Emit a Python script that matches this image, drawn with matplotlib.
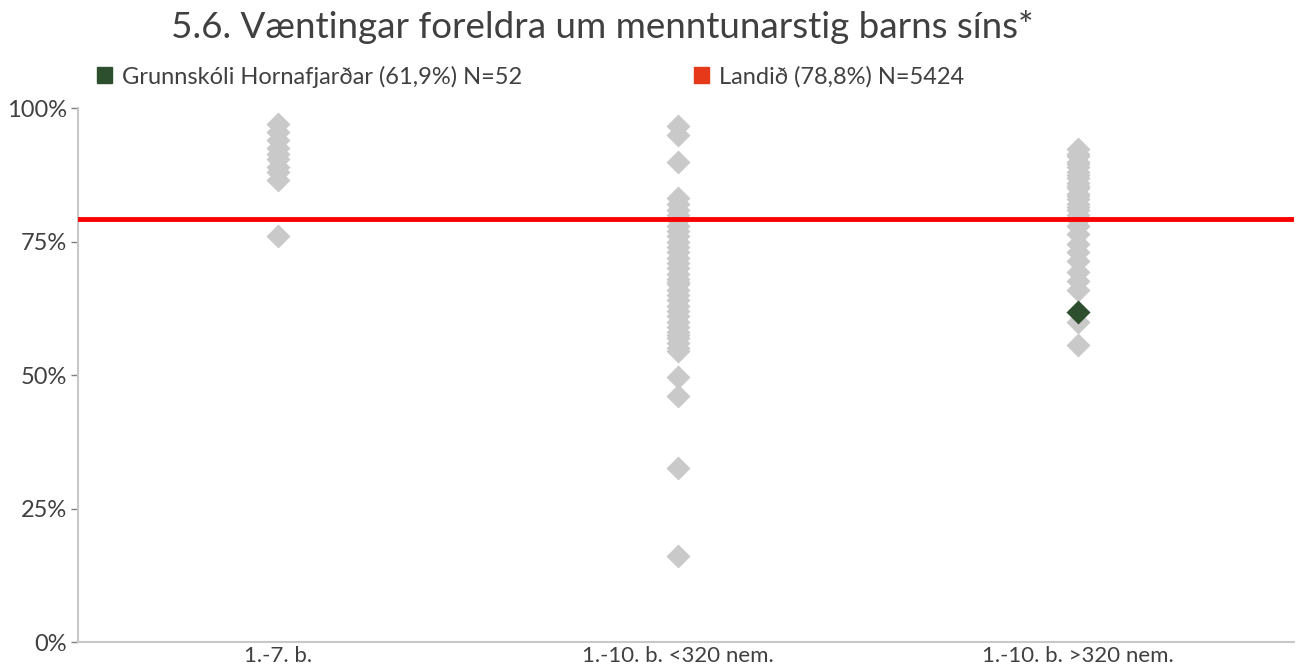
import matplotlib
matplotlib.use("Agg")
import matplotlib.pyplot as plt
from matplotlib.patches import Patch

plt.rcParams['font.family'] = ['Lato', 'DejaVu Sans']

categories = ["1.-7. b.", "1.-10. b. <320 nem.", "1.-10. b. >320 nem."]

# other schools (percent), per category
small_schools = [97, 95.5, 94, 92.5, 91.5, 90.5, 89, 88, 86.5, 76]
mid_schools = [96.6, 95, 90, 83.2, 82, 81, 80, 79.5, 79, 78, 77, 76, 75, 74,
               73, 72, 71, 70, 69, 68, 67.5, 67, 66, 65, 64, 63, 62, 61, 60,
               59, 58, 57.5, 57, 56, 55, 54.6, 49.7, 46, 32.6, 16.1]
large_schools = [92.3, 91.5, 91, 90, 89.5, 89, 88, 87.5, 87, 86, 85.5, 85, 84,
                 83.5, 83, 82, 81.5, 81, 80, 79.5, 79, 78, 76.5, 74.5, 73,
                 71.3, 69.4, 67.7, 66, 60, 55.6]

school_name = "Grunnskóli Hornafjarðar (61,9%) N=52"
school_cat = 2
school_value = 61.9

country_name = "Landið (78,8%) N=5424"
country_value = 79.2

fig = plt.figure(figsize=(13.03, 6.72), dpi=100)
ax = fig.add_axes([0.06, 0.0446, 0.933, 0.7944])

gray = "#C9C9C9"
for i, vals in enumerate([small_schools, mid_schools, large_schools]):
    ax.plot([i + 0.5] * len(vals), [v / 100 for v in vals], linestyle="none",
            marker="D", ms=12.5, color=gray, mec="none", zorder=2)

ax.axhline(country_value / 100, color="#FF0000", lw=3.5, zorder=3)
ax.plot([school_cat + 0.5], [school_value / 100], linestyle="none", marker="D",
        ms=12.5, color="#2E4F2E", mec="none", zorder=4)

ax.set_xlim(0, 3.04)
ax.set_ylim(0, 1)
ax.set_yticks([0, 0.25, 0.5, 0.75, 1.0])
ax.set_yticklabels(["0%", "25%", "50%", "75%", "100%"])
ax.set_xticks([0.5, 1.5, 2.5])
ax.set_xticklabels(categories)
ax.tick_params(axis="x", length=0, pad=3, labelsize=16, labelcolor="#404040")
ax.tick_params(axis="y", length=5, width=1, color="#7F7F7F", pad=3,
               labelsize=17, labelcolor="#404040")
for s in ["top", "right"]:
    ax.spines[s].set_visible(False)
for s in ["left", "bottom"]:
    ax.spines[s].set_color("#C8C8C8")
    ax.spines[s].set_linewidth(1.5)

handles = [Patch(color="#2E4F2E", label=school_name),
           Patch(color="#E5391A", label=country_name)]
fig.legend(handles=handles, loc="center left", bbox_to_anchor=(0.058, 0.886),
           ncol=2, frameon=False, fontsize=17, handlelength=0.65,
           handleheight=0.65, handletextpad=0.4, columnspacing=7.3,
           labelcolor="#404040")

fig.text(0.462, 0.960, "5.6. Væntingar foreldra um menntunarstig barns síns*",
         ha="center", va="center", fontsize=26.5, color="#404040")

fig.savefig("out.png", dpi=100)
